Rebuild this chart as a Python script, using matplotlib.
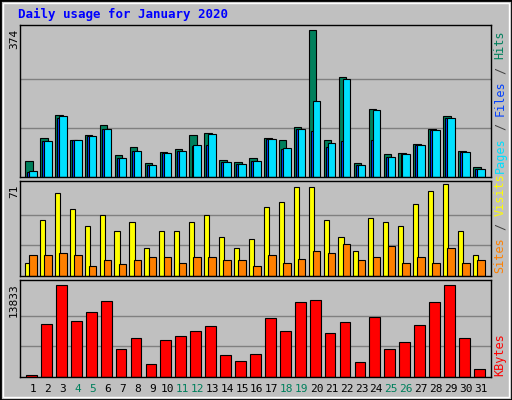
import matplotlib.pyplot as plt
from matplotlib.patches import Rectangle

days = list(range(1, 32))
weekends = [4, 5, 11, 12, 18, 19, 25, 26]
hits = [41, 100, 158, 95, 107, 133, 57, 77, 36, 64, 72, 107, 113, 44, 39, 49,
        100, 95, 128, 374, 95, 255, 36, 173, 59, 62, 85, 123, 156, 67, 26]
files = [14, 92, 151, 95, 105, 123, 49, 67, 31, 62, 67, 80, 82, 39, 34, 41,
         97, 72, 123, 118, 77, 92, 31, 95, 52, 59, 82, 120, 151, 64, 21]
pages = [16, 92, 156, 95, 105, 123, 49, 67, 31, 62, 67, 82, 110, 39, 34, 41,
         97, 74, 123, 194, 87, 250, 31, 171, 52, 59, 82, 120, 151, 64, 21]
visits = [10, 43, 64, 52, 39, 47, 35, 42, 22, 35, 35, 42, 47, 30, 22, 29,
          53, 57, 69, 69, 43, 30, 19, 45, 42, 39, 56, 66, 71, 35, 16]
sites = [16, 16, 18, 16, 8, 12, 9, 12, 15, 15, 10, 15, 15, 12, 12, 8,
         16, 10, 13, 19, 18, 25, 12, 15, 23, 10, 15, 10, 22, 10, 12]
kbytes = [353, 7926, 13833, 8381, 9744, 11410, 4140, 5806, 2019, 5503, 6109,
          6866, 7623, 3383, 2474, 3534, 8835, 6866, 11258, 11561, 6563, 8229,
          2322, 8986, 4140, 5200, 7775, 11258, 13833, 5806, 1262]

W, H = 512, 400
BG = '#C0C0C0'
MONO = 'DejaVu Sans Mono'

fig = plt.figure(figsize=(W / 100, H / 100), dpi=100)
fig.patch.set_facecolor(BG)
fig.patches.append(Rectangle((0, 0), 1, 1, transform=fig.transFigure,
                             fill=False, ec='black', lw=2))
fig.patches.append(Rectangle((3 / W, 3 / H), 1 - 6 / W, 1 - 6 / H,
                             transform=fig.transFigure, fill=False, ec='white', lw=1))


def panel(top, bottom, ymax):
    ax = fig.add_axes([20 / W, 1 - bottom / H, 471 / W, (bottom - top) / H])
    ax.set_facecolor(BG)
    ax.set_xlim(0.13, 31.68)
    ax.set_ylim(0, ymax)
    ax.set_yticks([])
    ax.set_xticks([])
    for s in ax.spines.values():
        s.set_color('black')
        s.set_linewidth(1)
    return ax


def grid(ax, vmax):
    for f in (1 / 3, 2 / 3):
        ax.axhline(vmax * f, color='#808080', lw=1, zorder=0)


def bars(ax, off, vals, width, color):
    ax.bar([d + off for d in days], vals, width=width, color=color,
           edgecolor='black', linewidth=0.8, zorder=2)


ax1 = panel(25, 177, 387)
grid(ax1, 374)
bars(ax1, -0.27, hits, 0.5, '#00805C')
bars(ax1, -0.13, files, 0.5, '#0040FF')
bars(ax1, 0.0, pages, 0.5, '#00E0FF')

ax2 = panel(181, 276, 73.5)
grid(ax2, 71)
bars(ax2, -0.37, visits, 0.34, '#FFFF00')
bars(ax2, 0.0, sites, 0.5, '#FF8000')

ax3 = panel(280, 377, 14600)
grid(ax3, 13833)
bars(ax3, -0.1, kbytes, 0.72, '#FF0000')
ax3.set_xticks(days)
ax3.set_xticklabels([str(d) for d in days], family=MONO, fontsize=8)
ax3.tick_params(axis='x', length=0, pad=5)
for lab, d in zip(ax3.get_xticklabels(), days):
    lab.set_color('#00805C' if d in weekends else 'black')

fig.text(18 / W, 1 - 14 / H, 'Daily usage for January 2020', color='#0000FF',
         family=MONO, fontweight='bold', fontsize=9, va='center')

for label, y in (('374', 29), ('71', 185), ('13833', 283)):
    fig.text(14 / W, 1 - y / H, label, rotation=90, ha='center', va='top',
             family=MONO, fontsize=8)


def side_label(parts, ybottom):
    step = 7.1
    idx = 0
    for txt, col in parts:
        fig.text(500 / W, 1 - (ybottom - idx * step) / H, txt, rotation=90,
                 ha='center', va='bottom', color=col, family=MONO, fontsize=8.5)
        idx += len(txt) + 1


side_label([('Pages', '#00E0FF'), ('/', '#404040'), ('Files', '#0040FF'),
            ('/', '#404040'), ('Hits', '#00805C')], 173)
side_label([('Sites', '#FF8000'), ('/', '#404040'), ('Visits', '#FFFF00')], 273)
side_label([('KBytes', '#FF0000')], 376)

fig.savefig('out.png', dpi=100, facecolor=BG)
